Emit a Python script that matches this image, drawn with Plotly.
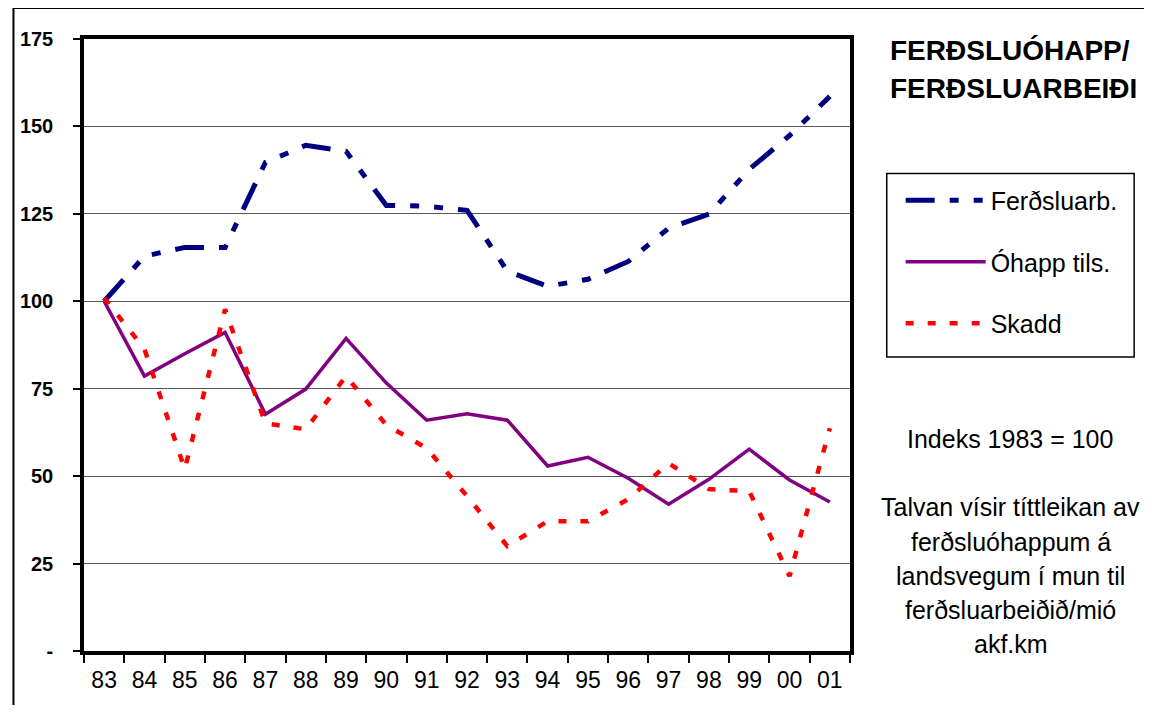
import plotly.graph_objects as go

years = ['83', '84', '85', '86', '87', '88', '89', '90', '91', '92',
         '93', '94', '95', '96', '97', '98', '99', '00', '01']

ferdsluarb = [100, 112.9, 115.4, 115.4, 139.7, 144.6, 142.9, 127.4, 127.2, 126.0,
              108.6, 104.3, 106.3, 111.4, 120.9, 124.9, 137.7, 147.4, 158.6]
ohapp_tils = [100, 78.6, 85.0, 91.1, 67.7, 74.9, 89.4, 76.6, 66.0, 67.8,
              66.0, 52.9, 55.4, 49.4, 42.0, 49.1, 57.7, 48.9, 42.6]
skadd = [101, 86.3, 52.0, 97.7, 65.1, 63.4, 78.6, 64.6, 58.0, 44.3,
         30.0, 37.1, 37.1, 43.4, 53.7, 46.3, 45.7, 21.4, 63.7]

y_ticks = [0, 25, 50, 75, 100, 125, 150, 175]
y_labels = ['-', '25', '50', '75', '100', '125', '150', '175']

title_lines = ['FERÐSLUÓHAPP/', 'FERÐSLUARBEIÐI']
note_lines = ['Talvan vísir títtleikan av', 'ferðsluóhappum á',
              'landsvegum í mun til', 'ferðsluarbeiðið/mió', 'akf.km']

FONT = 'Arial, Liberation Sans, sans-serif'

# the page body has an 8px margin all round, keep the figure inside the window
OFF = 8
W, H = 1152 - 2 * OFF, 713 - 2 * OFF
L, R, T, B = 79 - OFF, 850 - OFF, 39 - OFF, 653 - OFF


def px(x):
    return (x - OFF - L) / (R - L)


def py(y):
    return (B - (y - OFF)) / (B - T)


fig = go.Figure()
fig.add_trace(go.Scatter(x=years, y=ferdsluarb, name='Ferðsluarb.', mode='lines',
                         legendgroup='a',
                         line=dict(color='#000080', width=5,
                                   dash='29px,15px,9px,15px,9px,15px')))
fig.add_trace(go.Scatter(x=years, y=ohapp_tils, name='Óhapp tils.', mode='lines',
                         legendgroup='b',
                         line=dict(color='#800080', width=3.5)))
fig.add_trace(go.Scatter(x=years, y=skadd, name='Skadd', mode='lines',
                         legendgroup='c',
                         line=dict(color='#FF0000', width=4.5, dash='8px,14px')))

fig.update_xaxes(type='category', range=[-0.5, 18.5], tickson='boundaries',
                 ticks='outside', ticklen=8, tickwidth=1.5, tickcolor='black',
                 showline=True, linewidth=3.5, linecolor='black', mirror=True,
                 showgrid=False, tickfont=dict(family=FONT, size=23, color='black'),
                 ticklabelstandoff=6)
fig.update_yaxes(range=[0, 175], tickvals=y_ticks, ticktext=y_labels,
                 ticks='outside', ticklen=7, tickwidth=1.5, tickcolor='black',
                 showline=True, linewidth=3.5, linecolor='black', mirror=True,
                 showgrid=True, gridcolor='#555555', gridwidth=1, zeroline=False,
                 tickfont=dict(family=FONT, size=20, color='black', weight='bold'),
                 ticklabelstandoff=16)

annotations = []
for i, t in enumerate(title_lines):
    annotations.append(dict(text='<b>%s</b>' % t, x=px(888), y=py(51 + i * 38),
                            xanchor='left',
                            font=dict(family=FONT, size=28, color='black')))
annotations.append(dict(text='Indeks 1983 = 100', x=px(1011), y=py(440),
                        xanchor='center',
                        font=dict(family=FONT, size=25, color='black')))
for i, t in enumerate(note_lines):
    annotations.append(dict(text=t, x=px(1012), y=py(509 + i * 34.3),
                            xanchor='center',
                            font=dict(family=FONT, size=25, color='black')))
for a in annotations:
    a.update(xref='paper', yref='paper', yanchor='middle', showarrow=False)

# outer chart frame: only its left and top edges fall inside the picture
frame = dict(type='line', xref='paper', yref='paper',
             line=dict(color='black', width=2), layer='below')

fig.update_layout(
    width=W, height=H,
    margin=dict(l=L, r=W - R, t=T, b=H - B),
    paper_bgcolor='white', plot_bgcolor='white',
    annotations=annotations,
    showlegend=True,
    legend=dict(x=px(901), y=py(178), xanchor='left', yanchor='top',
                borderwidth=0, bgcolor='rgba(0,0,0,0)',
                font=dict(family=FONT, size=25, color='black'),
                itemwidth=80, tracegroupgap=26),
    shapes=[
        dict(frame, x0=px(8), x1=px(8), y0=py(713), y1=py(8)),
        dict(frame, x0=px(8), x1=px(1152), y0=py(8), y1=py(8)),
        dict(type='rect', xref='paper', yref='paper',
             x0=px(887), x1=px(1136), y0=py(358), y1=py(174),
             line=dict(color='black', width=1.5), layer='below'),
    ],
)

fig.write_html('out.html')
